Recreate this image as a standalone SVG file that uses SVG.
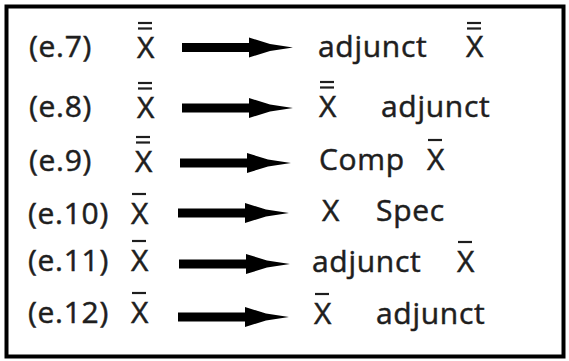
<svg xmlns="http://www.w3.org/2000/svg" width="569" height="361" viewBox="0 0 569 361">
<style>
  .t { font-family: "Open Sans", "Liberation Sans", sans-serif; font-size: 30px; letter-spacing: 0.7px; fill: #1e1e1e; stroke: #1e1e1e; stroke-width: 0.5px; }
  .bar { stroke: #1e1e1e; stroke-width: 2.2; }
  .arr { fill: #000; }
</style>
<defs>
  <path id="arrow" class="arr" d="M0,-4.5 H67 V-10 L88,-3.5 L111,0 L88,3.5 L67,10 V4.5 H0 Z"/>
</defs>
<rect x="0" y="0" width="569" height="361" fill="#fff"/>
<rect x="6.5" y="6.5" width="557" height="350" fill="none" stroke="#000" stroke-width="4"/>

<g id="connectors">
  <use href="#arrow" transform="translate(182,47.5)"/>
  <use href="#arrow" transform="translate(182,108)"/>
  <use href="#arrow" transform="translate(180,163)"/>
  <use href="#arrow" transform="translate(178,213)"/>
  <use href="#arrow" transform="translate(179,264)"/>
  <use href="#arrow" transform="translate(178,317)"/>
</g>

<g id="row-e7">
  <text class="t" x="29" y="57">(e.7)</text>
  <g id="e7-lhs"><text class="t" x="137" y="58">X</text><line class="bar" x1="138" y1="23" x2="152" y2="23"/><line class="bar" x1="138" y1="28.5" x2="152" y2="28.5"/></g>
  <g id="e7-rhs"><text class="t" x="318" y="57">adjunct</text><text class="t" x="466" y="57">X</text><line class="bar" x1="467" y1="23" x2="481" y2="23"/><line class="bar" x1="467" y1="28.5" x2="481" y2="28.5"/></g>
</g>

<g id="row-e8">
  <text class="t" x="29" y="117">(e.8)</text>
  <g id="e8-lhs"><text class="t" x="137" y="118">X</text><line class="bar" x1="138" y1="83" x2="152" y2="83"/><line class="bar" x1="138" y1="88.5" x2="152" y2="88.5"/></g>
  <g id="e8-rhs"><text class="t" x="319" y="117">X</text><line class="bar" x1="320" y1="82" x2="334" y2="82"/><line class="bar" x1="320" y1="87.5" x2="334" y2="87.5"/><text class="t" x="381" y="117">adjunct</text></g>
</g>

<g id="row-e9">
  <text class="t" x="29" y="171">(e.9)</text>
  <g id="e9-lhs"><text class="t" x="135" y="172">X</text><line class="bar" x1="136" y1="137" x2="150" y2="137"/><line class="bar" x1="136" y1="142.5" x2="150" y2="142.5"/></g>
  <g id="e9-rhs"><text class="t" x="319" y="170">Comp</text><text class="t" x="427" y="170">X</text><line class="bar" x1="428" y1="140" x2="442" y2="140"/></g>
</g>

<g id="row-e10">
  <text class="t" x="28" y="224">(e.10)</text>
  <g id="e10-lhs"><text class="t" x="131" y="224">X</text><line class="bar" x1="132" y1="194" x2="146" y2="194"/></g>
  <g id="e10-rhs"><text class="t" x="322" y="221">X</text><text class="t" x="376" y="221">Spec</text></g>
</g>

<g id="row-e11">
  <text class="t" x="28" y="271">(e.11)</text>
  <g id="e11-lhs"><text class="t" x="131" y="271">X</text><line class="bar" x1="132" y1="241" x2="146" y2="241"/></g>
  <g id="e11-rhs"><text class="t" x="312" y="272">adjunct</text><text class="t" x="457" y="272">X</text><line class="bar" x1="458" y1="242" x2="472" y2="242"/></g>
</g>

<g id="row-e12">
  <text class="t" x="28" y="323">(e.12)</text>
  <g id="e12-lhs"><text class="t" x="131" y="323">X</text><line class="bar" x1="132" y1="293" x2="146" y2="293"/></g>
  <g id="e12-rhs"><text class="t" x="314" y="324">X</text><line class="bar" x1="315" y1="294" x2="329" y2="294"/><text class="t" x="376" y="324">adjunct</text></g>
</g>
</svg>
